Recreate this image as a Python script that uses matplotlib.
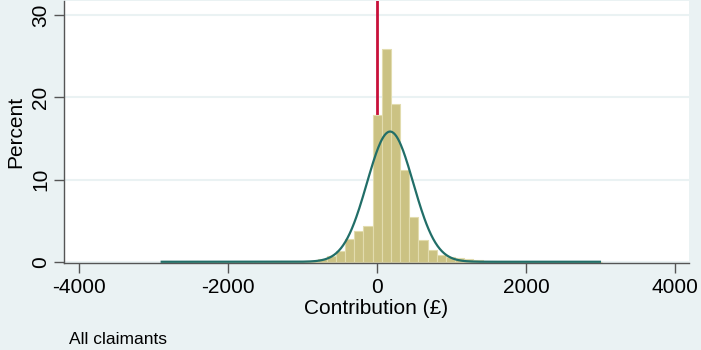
import matplotlib
matplotlib.use('Agg')
import matplotlib.pyplot as plt
import numpy as np

plt.rcParams['font.family'] = ['Liberation Sans', 'DejaVu Sans']
plt.rcParams['axes.unicode_minus'] = False

# Histogram bins (left edge of each bin, width in pounds)
bin_width = 123
bin_lefts = np.arange(-2889, 3015, bin_width)[:48]

# Percent of claimants in each bin
percent = [
    0.10, 0.00, 0.00, 0.10, 0.00, 0.00, 0.00, 0.03,   # -2889 .. -2028
    0.03, 0.03, 0.03, 0.03, 0.04, 0.04, 0.05, 0.05,   # -1905 .. -1044
    0.10, 0.30, 0.70, 1.35, 2.80, 3.80, 4.40,         # -921 .. -183
    17.8, 25.9, 19.2, 11.2, 5.40, 2.65, 1.40,         # -60 .. 678
    0.85, 0.62, 0.48, 0.35, 0.22,                     # 801 .. 1293
    0.05, 0.04, 0.04, 0.03, 0.03, 0.03, 0.03, 0.03,   # 1416 .. 2277
    0.03, 0.03, 0.03, 0.03, 0.03,                     # 2400 .. 2892
]

# Normal overlay parameters (mean / sd of contribution)
mean_contrib = 175
sd_contrib = 310
data_min = -2889
data_max = 2990

bg = '#eaf2f3'
fig = plt.figure(figsize=(7.01, 3.5), dpi=100, facecolor=bg)
ax = fig.add_axes([64 / 701, 1 - 263 / 350, 625 / 701, 262 / 350])
ax.set_facecolor('white')

# reference line at zero, behind the bars
ax.axvline(0, color='#c8103a', linewidth=2, zorder=1)

ax.bar(bin_lefts, percent, width=bin_width, align='edge',
       color='#cbc283', edgecolor='#e2dcae', linewidth=0.8, zorder=2)

xs = np.linspace(data_min, data_max, 600)
dens = 100 * bin_width * np.exp(-0.5 * ((xs - mean_contrib) / sd_contrib) ** 2) / (sd_contrib * np.sqrt(2 * np.pi))
ax.plot(xs, dens, color='#216e68', linewidth=1.6, zorder=3)

ax.set_xlim(-4200, 4185)
ax.set_ylim(-0.15, 31.7)
ax.set_xticks([-4000, -2000, 0, 2000, 4000])
ax.set_yticks([0, 10, 20, 30])
ax.grid(axis='y', color=bg, linewidth=1.5, zorder=0)
ax.set_axisbelow(True)

for side in ['top', 'right']:
    ax.spines[side].set_visible(False)
for side in ['left', 'bottom']:
    ax.spines[side].set_color('#555555')
    ax.spines[side].set_linewidth(1.0)

ax.tick_params(axis='both', colors='#555555', length=7, width=1, labelsize=15, labelcolor='black')
ax.tick_params(axis='y', pad=3)
plt.setp(ax.get_yticklabels(), rotation=90, va='center')
ax.tick_params(axis='x', pad=4)

ax.set_xlabel('Contribution (£)', fontsize=15, labelpad=1)
ax.set_ylabel('Percent', fontsize=15, labelpad=4)

fig.text(69 / 701, 1 - 339 / 350, 'All claimants', fontsize=12.5, va='center', ha='left')

fig.savefig('out.png', dpi=100, facecolor=bg)
